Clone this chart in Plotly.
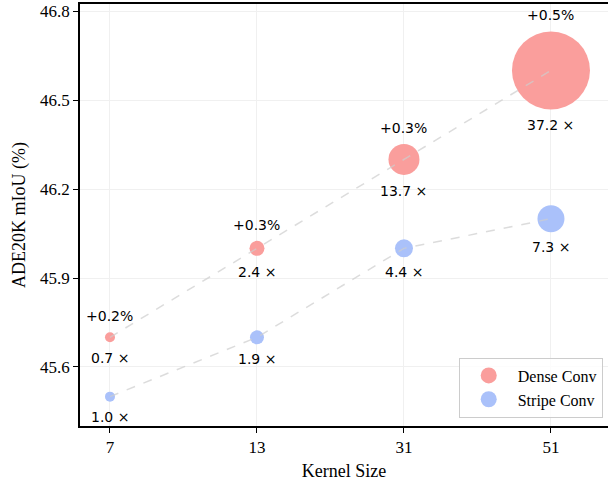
import plotly.graph_objects as go

kernel_sizes = ["7", "13", "31", "51"]
dense_miou = [45.7, 46.0, 46.3, 46.6]
stripe_miou = [45.5, 45.7, 46.0, 46.1]
dense_gain = ["+0.2%", "+0.3%", "+0.3%", "+0.5%"]
dense_cost = ["0.7 ×", "2.4 ×", "13.7 ×", "37.2 ×"]
stripe_cost = ["1.0 ×", "1.9 ×", "4.4 ×", "7.3 ×"]

# marker diameters (style, px)
dense_size = [10, 15, 31, 78]
stripe_size = [10, 14, 18, 27]

xs = list(range(len(kernel_sizes)))
dense_col = "rgb(250,158,156)"
stripe_col = "rgb(170,193,250)"

fig = go.Figure()
fig.add_trace(go.Scatter(x=xs, y=dense_miou, mode="markers", name="Dense Conv", showlegend=False,
                         marker=dict(size=dense_size, color=dense_col, opacity=1, line=dict(width=0))))
fig.add_trace(go.Scatter(x=xs, y=stripe_miou, mode="markers", name="Stripe Conv", showlegend=False,
                         marker=dict(size=stripe_size, color=stripe_col, opacity=1, line=dict(width=0))))
for ys in (dense_miou, stripe_miou):
    fig.add_trace(go.Scatter(x=xs, y=ys, mode="lines", showlegend=False, hoverinfo="skip",
                             line=dict(color="rgba(205,205,205,0.7)", width=1.5, dash="dash")))
# legend entries
for name, col in (("Dense Conv", dense_col), ("Stripe Conv", stripe_col)):
    fig.add_trace(go.Scatter(x=[None], y=[None], mode="markers", name=name,
                             marker=dict(size=16, color=col)))

ann_font = dict(family="DejaVu Sans", size=14, color="black")
for i in xs:
    r = dense_size[i] / 2
    fig.add_annotation(x=i, y=dense_miou[i], text=dense_gain[i], showarrow=False,
                       yshift=r + 16, font=ann_font)
    fig.add_annotation(x=i, y=dense_miou[i], text=dense_cost[i], showarrow=False,
                       yshift=-(r + 16), font=ann_font)
    rs = stripe_size[i] / 2
    fig.add_annotation(x=i, y=stripe_miou[i], text=stripe_cost[i], showarrow=False,
                       yshift=-(rs + 15), font=ann_font)

serif = "Liberation Serif, Times New Roman, serif"
fig.update_layout(
    width=608, height=484,
    margin=dict(l=80, r=0, t=4, b=58),
    plot_bgcolor="white", paper_bgcolor="white",
    font=dict(family=serif, size=17, color="black"),
    legend=dict(x=0.99, y=0.02, xanchor="right", yanchor="bottom",
                bordercolor="#cccccc", borderwidth=1, bgcolor="rgba(255,255,255,0.8)",
                font=dict(family=serif, size=16), itemsizing="trace",
                itemwidth=48),
    xaxis=dict(range=[-0.204, 3.388], tickvals=xs, ticktext=kernel_sizes,
               showline=True, linecolor="black", linewidth=1.5, mirror=True,
               ticks="outside", ticklen=5, tickcolor="black", automargin=False,
               showgrid=True, gridcolor="#f0f0f0", zeroline=False,
               title=dict(text="Kernel Size", font=dict(family=serif, size=18), standoff=8),
               tickfont=dict(family=serif, size=17)),
    yaxis=dict(range=[45.401, 46.824], tickvals=[45.6, 45.9, 46.2, 46.5, 46.8],
               ticktext=["45.6", "45.9", "46.2", "46.5", "46.8"],
               showline=True, linecolor="black", linewidth=1.5, automargin=False,
               ticks="outside", ticklen=5, tickcolor="black",
               showgrid=True, gridcolor="#f0f0f0", zeroline=False,
               title=dict(text="ADE20K mIoU (%)", font=dict(family=serif, size=18), standoff=10),
               tickfont=dict(family=serif, size=17)),
)
fig.write_html("out.html", config={"displayModeBar": False},
               post_script="document.body.style.margin='0';document.body.style.overflow='hidden';")
